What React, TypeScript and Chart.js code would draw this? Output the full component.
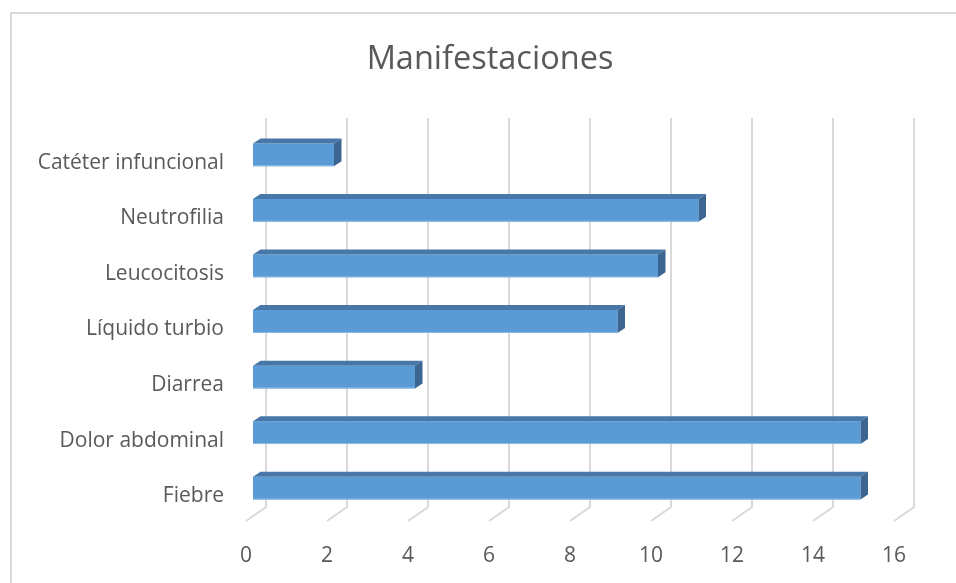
import React, { useEffect, useRef } from "react";
import { Chart, registerables } from "chart.js";

Chart.register(...registerables);

const categories = [
  "Catéter infuncional",
  "Neutrofilia",
  "Leucocitosis",
  "Líquido turbio",
  "Diarrea",
  "Dolor abdominal",
  "Fiebre",
];
const values = [2, 11, 10, 9, 4, 15, 15];
const xTicks = [0, 2, 4, 6, 8, 10, 12, 14, 16];
const title = "Manifestaciones";

const FONT = "'Open Sans', Lato, sans-serif";
const TEXT = "#595959";
const GRID = "#d9d9d9";
// perspective offsets (relative to the chart area)
const FLOOR_DY = -3;
const WALL_DX = 20;
const WALL_DY = -17;
const BAR_DX = 7;
const BAR_DY = -8;
const DEPTH_DX = 7.5;
const DEPTH_DY = -5;

const frame3d = {
  id: "frame3d",
  beforeDraw(chart: any) {
    const { ctx } = chart;
    ctx.save();
    ctx.strokeStyle = GRID;
    ctx.lineWidth = 2;
    ctx.strokeRect(11, 13, 2000, 2000);
    ctx.restore();
  },
  beforeDatasetsDraw(chart: any) {
    const { ctx, chartArea, scales } = chart;
    const xs = scales.x;
    ctx.save();
    ctx.strokeStyle = GRID;
    ctx.lineWidth = 2;
    xs.ticks.forEach((t: any) => {
      const px = xs.getPixelForValue(t.value);
      ctx.beginPath();
      ctx.moveTo(px + WALL_DX, chartArea.top + WALL_DY);
      ctx.lineTo(px + WALL_DX, chartArea.bottom + WALL_DY);
      ctx.lineTo(px, chartArea.bottom + FLOOR_DY);
      ctx.stroke();
    });
    ctx.restore();
    ctx.save();
    ctx.translate(BAR_DX, BAR_DY);
  },
  afterDatasetsDraw(chart: any) {
    const { ctx } = chart;
    const meta = chart.getDatasetMeta(0);
    meta.data.forEach((el: any) => {
      const x0 = Math.min(el.base, el.x);
      const x1 = Math.max(el.base, el.x);
      const top = el.y - el.height / 2;
      const bot = el.y + el.height / 2;
      // top face
      ctx.fillStyle = "#4677a8";
      ctx.beginPath();
      ctx.moveTo(x0, top);
      ctx.lineTo(x0 + DEPTH_DX, top + DEPTH_DY);
      ctx.lineTo(x1 + DEPTH_DX, top + DEPTH_DY);
      ctx.lineTo(x1, top);
      ctx.closePath();
      ctx.fill();
      // side face
      ctx.fillStyle = "#3c6691";
      ctx.beginPath();
      ctx.moveTo(x1, top);
      ctx.lineTo(x1 + DEPTH_DX, top + DEPTH_DY);
      ctx.lineTo(x1 + DEPTH_DX, bot + DEPTH_DY);
      ctx.lineTo(x1, bot);
      ctx.closePath();
      ctx.fill();
      // light bottom edge of front face
      ctx.strokeStyle = "#8fbbe6";
      ctx.lineWidth = 1;
      ctx.beginPath();
      ctx.moveTo(x0, bot - 0.5);
      ctx.lineTo(x1, bot - 0.5);
      ctx.stroke();
    });
    ctx.restore();
  },
};

export default function App() {
  const ref = useRef<HTMLCanvasElement | null>(null);
  useEffect(() => {
    if (!ref.current) return;
    const chart = new Chart(ref.current, {
      type: "bar",
      data: {
        labels: categories,
        datasets: [
          {
            data: values,
            backgroundColor: "#5b9bd5",
            borderWidth: 0,
            barPercentage: 0.41,
            categoryPercentage: 1,
            yAxisID: "y",
          },
        ],
      },
      options: {
        indexAxis: "y",
        animation: false,
        responsive: false,
        layout: { padding: { left: 24, right: 0, top: 0, bottom: 0 } },
        plugins: {
          legend: { display: false },
          tooltip: { enabled: false },
          title: {
            display: true,
            text: title,
            color: TEXT,
            font: { family: FONT, size: 32.5, weight: "normal" },
            padding: { top: 40, bottom: 56 },
          },
        },
        scales: {
          x: {
            min: 0,
            max: 16,
            afterBuildTicks: (s: any) => {
              s.ticks = xTicks.map((v) => ({ value: v }));
            },
            grid: { display: false },
            border: { display: false },
            ticks: {
              color: TEXT,
              font: { family: FONT, size: 21 },
              padding: 11,
              maxRotation: 0,
            },
            afterFit: (s: any) => {
              s.height = 59;
            },
          },
          y: {
            position: "left",
            grid: { display: false },
            border: { display: false },
            ticks: {
              color: TEXT,
              font: { family: FONT, size: 21 },
              padding: 14,
            },
            afterFit: (s: any) => {
              s.width = 222;
            },
          },
          y2: {
            type: "category",
            position: "right",
            display: true,
            grid: { display: false },
            border: { display: false },
            ticks: { display: false },
            afterFit: (s: any) => {
              s.width = 62;
            },
          },
        },
      },
      plugins: [frame3d],
    });
    return () => chart.destroy();
  }, []);
  return (
    <div style={{ position: "fixed", left: 0, top: 0, width: 956, height: 583, background: "#fff" }}>
      <canvas ref={ref} width={956} height={583} />
    </div>
  );
}
